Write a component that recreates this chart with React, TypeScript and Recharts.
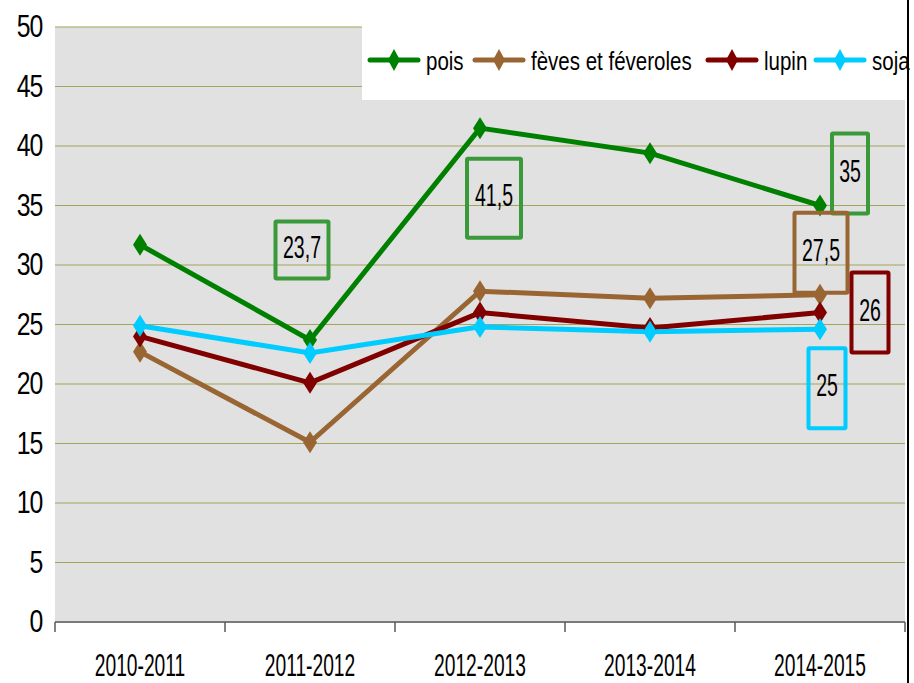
import { CartesianGrid, LabelList, Legend, Line, LineChart, XAxis, YAxis } from "recharts";

const categories = ["2010-2011", "2011-2012", "2012-2013", "2013-2014", "2014-2015"];
const pois = [31.7, 23.7, 41.5, 39.4, 35];
const feves = [22.7, 15.1, 27.8, 27.2, 27.5];
const lupin = [24.0, 20.1, 26.0, 24.7, 26];
const soja = [24.9, 22.6, 24.8, 24.4, 24.6];
const yTicks = [0, 5, 10, 15, 20, 25, 30, 35, 40, 45, 50];

// value callouts shown in boxes (null = none)
const poisNotes = [null, "23,7", "41,5", null, "35"];
const fevesNotes = [null, null, null, null, "27,5"];
const lupinNotes = [null, null, null, null, "26"];
const sojaNotes = [null, null, null, null, "25"];

// no narrow font installed: squeeze Liberation Sans horizontally instead
const font = '"Liberation Sans", Arial, sans-serif';

type Box = { dx: number; dy: number; w: number; h: number };

// box placement relative to its point
const boxes: Record<string, Record<number, Box>> = {
  pois: {
    1: { dx: -8, dy: -90, w: 53, h: 57 },
    2: { dx: 14, dy: 70, w: 54, h: 79 },
    4: { dx: 30, dy: -32, w: 36, h: 80 },
  },
  feves: { 4: { dx: 1, dy: -42, w: 53, h: 80 } },
  lupin: { 4: { dx: 50, dy: 0, w: 37, h: 80 } },
  soja: { 4: { dx: 7, dy: 59, w: 37, h: 80 } },
};

const series = [
  { key: "pois", name: "pois", color: "#008000", boxColor: "#3a9a3a", notes: poisNotes },
  { key: "feves", name: "fèves et féveroles", color: "#996633", boxColor: "#996633", notes: fevesNotes },
  { key: "lupin", name: "lupin", color: "#800000", boxColor: "#800000", notes: lupinNotes },
  { key: "soja", name: "soja", color: "#00ccff", boxColor: "#00ccff", notes: sojaNotes },
];

// legend item offsets inside the white legend box
const legendIconX = [6, 111, 344, 452];

const data = categories.map((label, i) => ({
  x: i + 0.5,
  label,
  pois: pois[i],
  feves: feves[i],
  lupin: lupin[i],
  soja: soja[i],
}));

function diamond(cx: number, cy: number, hw: number, hh: number) {
  return `${cx},${cy - hh} ${cx + hw},${cy} ${cx},${cy + hh} ${cx - hw},${cy}`;
}

function NarrowText(props: {
  x: number;
  y: number;
  sx: number;
  size: number;
  anchor?: "start" | "middle" | "end";
  spacing?: number;
  children: any;
}) {
  const { x, y, sx, size, anchor = "start", spacing = 0, children } = props;
  return (
    <text
      transform={`translate(${x} ${y}) scale(${sx} 1)`}
      textAnchor={anchor}
      fontSize={size}
      fontFamily={font}
      letterSpacing={spacing}
      fill="#000"
    >
      {children}
    </text>
  );
}

function DiamondDot(props: any) {
  const { cx, cy, stroke, index } = props;
  if (cx == null || cy == null) return null;
  return <polygon key={index} points={diamond(cx, cy, 7, 11)} fill={stroke} stroke="none" />;
}

function XTick(props: any) {
  const { x, y, payload } = props;
  return (
    <NarrowText x={x} y={y + 42} sx={0.62} size={31} anchor="middle">
      {categories[Math.floor(Number(payload.value))]}
    </NarrowText>
  );
}

function YTick(props: any) {
  const { x, y, payload } = props;
  return (
    <NarrowText x={x} y={y + 10} sx={0.8} size={31} anchor="end" spacing={-1.5}>
      {payload.value}
    </NarrowText>
  );
}

function noteRenderer(key: string, notes: (string | null)[], color: string) {
  return (p: any) => {
    const text = notes[p.index];
    const box = boxes[key]?.[p.index];
    if (!text || !box) return null;
    const cx = Number(p.x) + box.dx;
    const cy = Number(p.y) + box.dy;
    return (
      <g key={`${key}-${p.index}`}>
        <rect
          x={cx - box.w / 2}
          y={cy - box.h / 2}
          width={box.w}
          height={box.h}
          fill="none"
          stroke={color}
          strokeWidth={4}
          rx={1}
        />
        <NarrowText x={cx} y={cy + 8} sx={0.61} size={32} anchor="middle">
          {text}
        </NarrowText>
      </g>
    );
  };
}

function LegendContent() {
  return (
    <svg width={545} height={100} style={{ display: "block", overflow: "visible" }}>
      {series.map((s, i) => {
        const x0 = legendIconX[i];
        return (
          <g key={s.key}>
            <line x1={x0 + 2} y1={60} x2={x0 + 50} y2={60} stroke={s.color} strokeWidth={5} strokeLinecap="round" />
            <polygon points={diamond(x0 + 26, 60, 6, 11)} fill={s.color} />
            <NarrowText x={x0 + 58} y={70} sx={0.82} size={25}>
              {s.name}
            </NarrowText>
          </g>
        );
      })}
    </svg>
  );
}

export default function App() {
  return (
    <div style={{ position: "fixed", top: 0, left: 0, width: 914, height: 683, background: "#fff" }}>
      <LineChart width={914} height={683} data={data} margin={{ top: 27, right: 9, left: 10, bottom: 9 }}>
        <CartesianGrid
          xAxisId="bounds"
          vertical={false}
          stroke="#a3a35c"
          strokeWidth={1.2}
          fill="#e1e1e1"
        />
        <XAxis
          xAxisId="bounds"
          dataKey="x"
          type="number"
          domain={[0, 5]}
          ticks={[0, 1, 2, 3, 4, 5]}
          tickFormatter={() => ""}
          tickSize={10}
          height={12}
          axisLine={{ stroke: "#7a7a7a", strokeWidth: 2 }}
          tickLine={{ stroke: "#5a5a5a", strokeWidth: 1.5 }}
          interval={0}
        />
        <XAxis
          xAxisId="labels"
          dataKey="x"
          type="number"
          domain={[0, 5]}
          ticks={[0.5, 1.5, 2.5, 3.5, 4.5]}
          axisLine={false}
          tickLine={false}
          tickSize={0}
          tickMargin={0}
          height={40}
          interval={0}
          tick={<XTick />}
        />
        <YAxis
          domain={[0, 50]}
          ticks={yTicks}
          interval={0}
          axisLine={false}
          tickLine={false}
          tickSize={0}
          tickMargin={13}
          width={45}
          tick={<YTick />}
        />
        <Legend
          layout="vertical"
          align="center"
          verticalAlign="middle"
          wrapperStyle={{ position: "absolute", left: 362, top: 0, width: 545, height: 100, background: "#fff" }}
          content={() => <LegendContent />}
        />
        {series.map((s) => (
          <Line
            key={s.key}
            xAxisId="bounds"
            type="linear"
            dataKey={s.key}
            name={s.name}
            stroke={s.color}
            strokeWidth={5}
            dot={<DiamondDot />}
            activeDot={false}
            isAnimationActive={false}
          >
            <LabelList dataKey={s.key} content={noteRenderer(s.key, s.notes, s.boxColor)} />
          </Line>
        ))}
      </LineChart>
      <div style={{ position: "absolute", left: 907, top: 0, width: 2, height: 683, background: "#000" }} />
    </div>
  );
}
